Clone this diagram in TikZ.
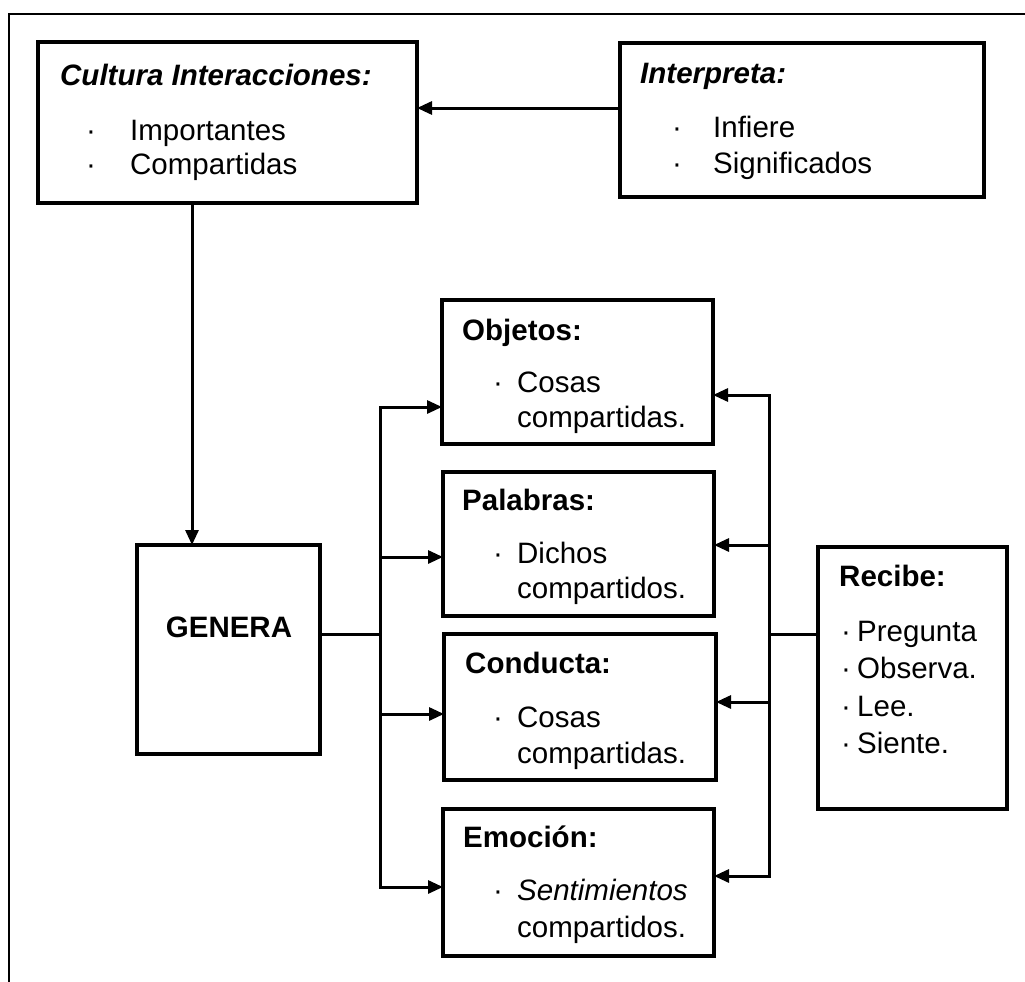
\documentclass[tikz,border=0pt]{standalone}
\usepackage{fontspec}
\setmainfont{Liberation Sans}
\usetikzlibrary{arrows.meta}
\begin{document}
\begin{tikzpicture}[x=1pt,y=-1pt,
  box/.style={draw,line width=3.2pt,inner sep=0pt,outer sep=0pt,anchor=north west},
  conn/.style={line width=3pt,line join=miter},
  arr/.style={conn,-{Triangle[length=15pt,width=13pt]}},
  frameline/.style={line width=2.6pt},
  txt/.style={anchor=base west,inner sep=0pt,font=\fontsize{29.5}{35}\selectfont},
  ttl/.style={txt,font=\fontsize{29.5}{35}\selectfont\bfseries},
  ttli/.style={txt,font=\fontsize{29.5}{35}\selectfont\bfseries\itshape}]
\useasboundingbox (0,0) rectangle (1025,982);
% outer frame
\draw[frameline] (1025,14) -- (9,14) -- (9,982);
% boxes
\node[box,minimum width=379pt,minimum height=161pt] (cult) at (38,42) {};
\node[box,minimum width=364pt,minimum height=154pt] (interp) at (620,43) {};
\node[box,minimum width=183pt,minimum height=209pt] (genera) at (137,545) {};
\node[box,minimum width=271pt,minimum height=144pt] (obj) at (442,300) {};
\node[box,minimum width=271pt,minimum height=144pt] (pal) at (443,472) {};
\node[box,minimum width=272pt,minimum height=146pt] (cond) at (444,634) {};
\node[box,minimum width=271pt,minimum height=147pt] (emo) at (443,809) {};
\node[box,minimum width=189pt,minimum height=262pt] (recibe) at (818,547) {};
% texts
\node[ttli] (cultT) at (60,85) {Cultura Interacciones:};
\node[txt] (cultA) at (86,140) {\makebox[44pt][l]{·}Importantes};
\node[txt] (cultB) at (86,174) {\makebox[44pt][l]{·}Compartidas};
\node[ttli] (interpT) at (640,83) {Interpreta:};
\node[txt] (interpA) at (672,137) {\makebox[41pt][l]{·}Infiere};
\node[txt] (interpB) at (672,173) {\makebox[41pt][l]{·}Significados};
\node[ttl,anchor=base] (generaT) at (229,637) {GENERA};
\node[ttl] (objT) at (462,340) {Objetos:};
\node[txt] (objA) at (493,392) {\makebox[24pt][l]{·}Cosas};
\node[txt] (objB) at (517,427) {compartidas.};
\node[ttl] (palT) at (462,510) {Palabras:};
\node[txt] (palA) at (493,563) {\makebox[24pt][l]{·}Dichos};
\node[txt] (palB) at (517,598) {compartidos.};
\node[ttl] (condT) at (465,673) {Conducta:};
\node[txt] (condA) at (493,727) {\makebox[24pt][l]{·}Cosas};
\node[txt] (condB) at (517,763) {compartidas.};
\node[ttl] (emoT) at (463,847) {Emoción:};
\node[txt] (emoA) at (493,900) {\makebox[24pt][l]{·}\textit{Sentimientos}};
\node[txt] (emoB) at (517,937) {compartidos.};
\node[ttl] (recT) at (839,586) {Recibe:};
\node[txt] (recA) at (841,641) {\makebox[16pt][l]{·}Pregunta};
\node[txt] (recB) at (841,678) {\makebox[16pt][l]{·}Observa.};
\node[txt] (recC) at (841,716) {\makebox[16pt][l]{·}Lee.};
\node[txt] (recD) at (841,753) {\makebox[16pt][l]{·}Siente.};
% connector levels
\coordinate (yIC) at (0,108);
\coordinate (xCG) at (192,0);
\coordinate (lmid) at (380,634);
\coordinate (ltop) at (380,407);
\coordinate (lpal) at (380,557);
\coordinate (lcond) at (380,714);
\coordinate (lbot) at (380,887);
\coordinate (rmid) at (769,634);
\coordinate (rtop) at (769,395);
\coordinate (rpal) at (769,545);
\coordinate (rcond) at (769,702);
\coordinate (rbot) at (769,876);
% connectors
\draw[arr] (interp.west |- yIC) -- (cult.east |- yIC);
\draw[arr] (cult.south -| xCG) -- (genera.north -| xCG);
\draw[conn] (genera.east |- lmid) -- (lmid);
\draw[arr] (lbot) -- (ltop) -- (obj.west |- ltop);
\draw[arr] (lpal) -- (pal.west |- lpal);
\draw[arr] (lcond) -- (cond.west |- lcond);
\draw[arr] (ltop) -- (lbot) -- (emo.west |- lbot);
\draw[conn] (recibe.west |- rmid) -- (rmid);
\draw[arr] (rbot) -- (rtop) -- (obj.east |- rtop);
\draw[arr] (rpal) -- (pal.east |- rpal);
\draw[arr] (rcond) -- (cond.east |- rcond);
\draw[arr] (rtop) -- (rbot) -- (emo.east |- rbot);
\end{tikzpicture}
\end{document}
